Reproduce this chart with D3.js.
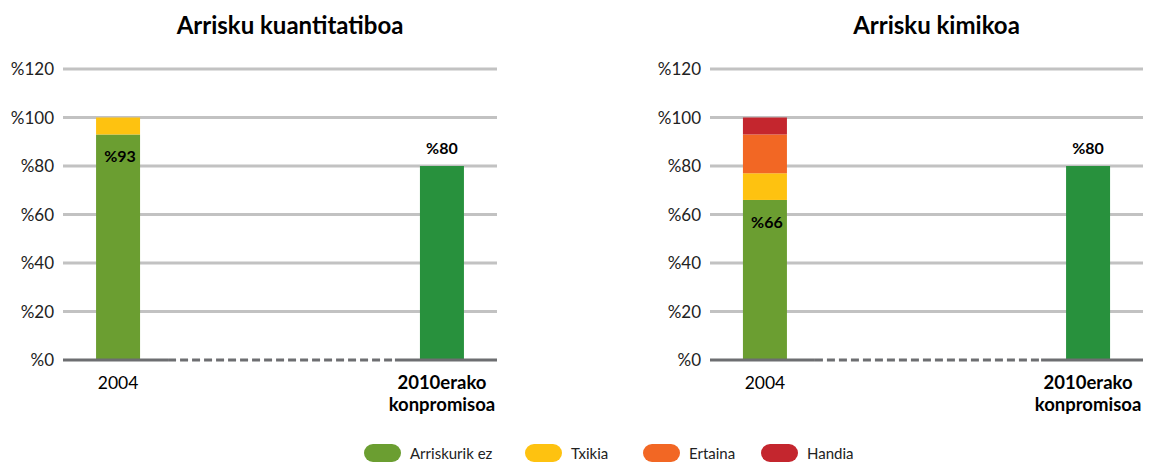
<!DOCTYPE html>
<html>
<head>
<meta charset="utf-8">
<script src="https://cdn.jsdelivr.net/npm/d3@7"></script>
<style>
  body { margin: 0; background: #fff; }
  svg { font-family: Lato, "Open Sans", sans-serif; }
</style>
</head>
<body>
<svg id="chart" width="1153" height="462"></svg>
<script>
// Chart data
const categories = ["2004", "2010erako konpromisoa"];
const levels = ["Arriskurik ez", "Txikia", "Ertaina", "Handia"];
const levelColors = ["#6b9e31", "#fec210", "#f26724", "#c4262e"];
const targetColor = "#28913d";
const yTicks = [0, 20, 40, 60, 80, 100, 120];

// values per risk level for 2004, then the 2010 target
const quant2004 = [93, 7, 0, 0];
const quantTarget = 80;
const chem2004 = [66, 11, 16, 7];
const chemTarget = 80;

const svg = d3.select("#chart");

// draw one panel
function panel(title, stack, target, left, right) {
  const top = 69, bottom = 360;
  const g = svg.append("g");

  let x = d3.scalePoint().domain(categories).range([left, right]).padding(0.17);
  let y = d3.scaleLinear().domain([0, 120]).range([bottom, top]);
  const bw = 44;

  g.append("text")
    .attr("x", (left + right) / 2 + 10).attr("y", 34)
    .attr("text-anchor", "middle")
    .attr("font-size", 24).attr("font-weight", "bold")
    .text(title);

  // gridlines + labels
  yTicks.forEach((t) => {
    if (t > 0) {
      g.append("line")
        .attr("x1", left).attr("x2", right)
        .attr("y1", y(t)).attr("y2", y(t))
        .attr("stroke", "#c2c2c2").attr("stroke-width", 3);
    }
    g.append("text")
      .attr("x", left - 9).attr("y", y(t) + 6)
      .attr("text-anchor", "end")
      .attr("font-size", 17).attr("fill", "#222")
      .text("%" + t);
  });

  // stacked 2004 bar
  let acc = 0;
  stack.forEach((v, i) => {
    if (v <= 0) return;
    g.append("rect")
      .attr("x", x(categories[0]) - bw / 2).attr("width", bw)
      .attr("y", y(acc + v)).attr("height", y(acc) - y(acc + v))
      .attr("fill", levelColors[i]);
    acc += v;
  });
  g.append("text")
    .attr("x", x(categories[0]) + 2).attr("y", y(stack[0]) + 28)
    .attr("text-anchor", "middle")
    .attr("font-size", 16).attr("font-weight", "bold")
    .text("%" + stack[0]);

  // target bar
  g.append("rect")
    .attr("x", x(categories[1]) - bw / 2).attr("width", bw)
    .attr("y", y(target)).attr("height", bottom - y(target))
    .attr("fill", targetColor);
  g.append("text")
    .attr("x", x(categories[1])).attr("y", y(target) - 12)
    .attr("text-anchor", "middle")
    .attr("font-size", 16).attr("font-weight", "bold")
    .text("%" + target);

  // baseline: solid, dashed in between, solid
  const d1 = x(categories[0]) + 50, d2 = x(categories[1]) - 47;
  g.append("line").attr("x1", left).attr("x2", d1)
    .attr("y1", bottom).attr("y2", bottom)
    .attr("stroke", "#6d6e71").attr("stroke-width", 3);
  g.append("line").attr("x1", d1).attr("x2", d2)
    .attr("y1", bottom).attr("y2", bottom)
    .attr("stroke", "#6d6e71").attr("stroke-width", 3)
    .attr("stroke-dasharray", "8,4");
  g.append("line").attr("x1", d2).attr("x2", right)
    .attr("y1", bottom).attr("y2", bottom)
    .attr("stroke", "#6d6e71").attr("stroke-width", 3);

  // category labels
  g.append("text")
    .attr("x", x(categories[0])).attr("y", 389)
    .attr("text-anchor", "middle").attr("font-size", 17.5)
    .text(categories[0]);
  const lab = g.append("text")
    .attr("x", x(categories[1])).attr("y", 389)
    .attr("text-anchor", "middle").attr("font-size", 18.5)
    .attr("font-weight", "bold");
  categories[1].split(" ").forEach((w, i) => {
    lab.append("tspan").attr("x", x(categories[1]))
      .attr("dy", i === 0 ? 0 : 22).text(w);
  });
}

panel("Arrisku kuantitatiboa", quant2004, quantTarget, 63, 497);
panel("Arrisku kimikoa", chem2004, chemTarget, 710, 1143);

// legend
const legendX = [364, 525, 643, 761];
const legend = svg.append("g");
levels.forEach((name, i) => {
  legend.append("rect")
    .attr("x", legendX[i]).attr("y", 444)
    .attr("width", 37).attr("height", 18)
    .attr("rx", 9).attr("fill", levelColors[i]);
  legend.append("text")
    .attr("x", legendX[i] + 46).attr("y", 459)
    .attr("font-size", 15).attr("fill", "#222")
    .text(name);
});
</script>
</body>
</html>
